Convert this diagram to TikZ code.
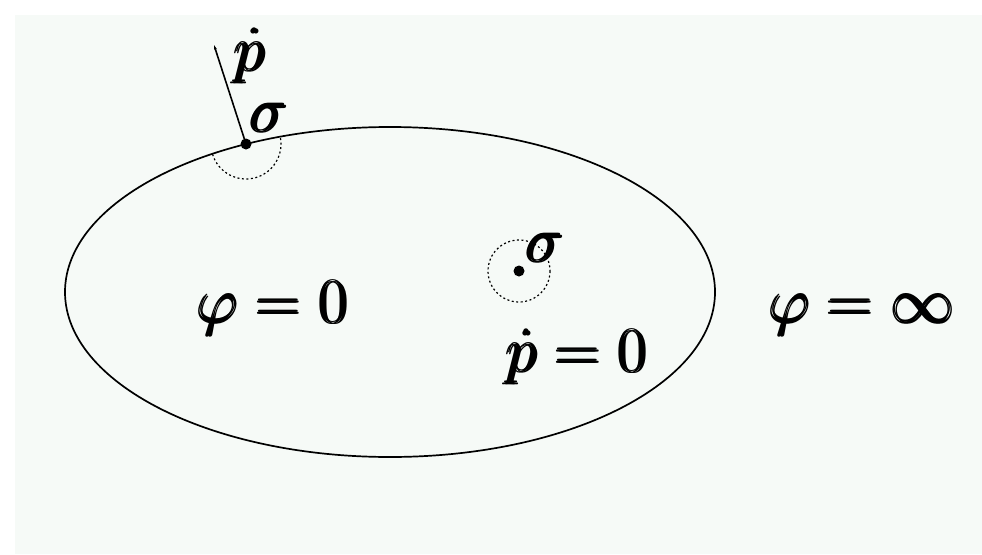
\documentclass[tikz,border=0pt]{standalone}
\usepackage{amsmath}
\usepackage{graphicx}
\usetikzlibrary{arrows.meta}
\definecolor{pale}{RGB}{246,250,247}
\newcommand{\mylabeltext}[1]{\scalebox{2.55}{\Huge$\pmb{#1}$}}
\tikzset{
  lbl/.style={inner sep=0pt, anchor=base},
  curve/.style={line width=1.7pt, black},
  dotted arc/.style={line width=1.2pt, dash pattern=on 2pt off 2.5pt, black},
  pt/.style={circle, fill=black, inner sep=0pt, minimum size=11pt}
}
\begin{document}
\begin{tikzpicture}[x=1pt,y=-1pt]
\useasboundingbox (0,0) rectangle (982,554);
\fill[white] (0,0) rectangle (982,554);
\fill[pale] (15,15) rectangle (982,554);
% region boundary
\draw[curve] (390,292) ellipse [x radius=325, y radius=165];
% boundary point
\node[pt] (b) at (246,144) {};
\coordinate (tip) at (214,45);
\draw[line width=1.6pt, -{Stealth[length=5pt,width=3pt]}] (b.center) -- (tip);
\draw[dotted arc] (b.center) ++(163:35) arc[start angle=163, end angle=-11, radius=35];
\node[lbl] (pdot1) at (251,71) {\mylabeltext{\dot p}};
\node[lbl] (sig1) at (270,132) {\mylabeltext{\sigma}};
% interior point
\node[pt] (c) at (519,271) {};
\draw[dotted arc] (c.center) circle[radius=31];
\node[lbl] (sig2) at (546,262) {\mylabeltext{\sigma}};
% labels
\node[lbl] (in) at (274,323) {\mylabeltext{\varphi=0}};
\node[lbl] (out) at (863,323) {\mylabeltext{\varphi=\infty}};
\node[lbl] (pz) at (578,372) {\mylabeltext{\dot p=0}};
\end{tikzpicture}
\end{document}
